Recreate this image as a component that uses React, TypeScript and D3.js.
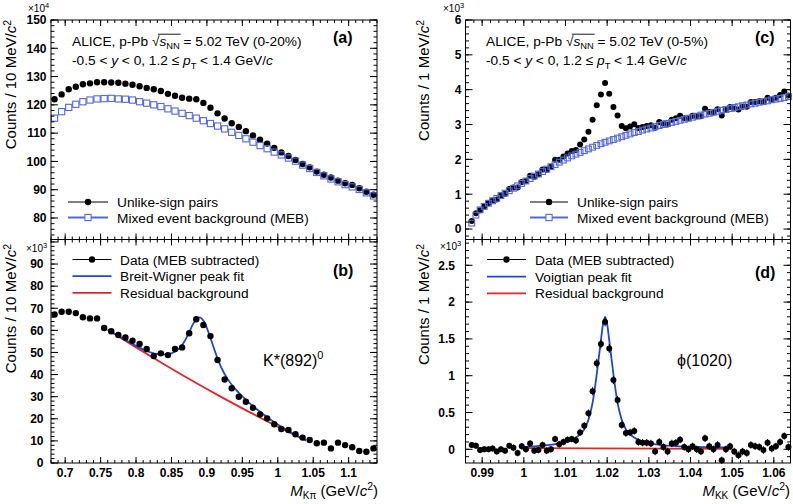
import React from 'react';
import * as d3 from 'd3';

const FONT = '"Liberation Sans", Arial, Helvetica, sans-serif';

// ---------------- K*(892) panels (a), (b) ----------------
const kMass = [0.685, 0.695, 0.705, 0.715, 0.725, 0.735, 0.745, 0.755, 0.765, 0.775, 0.785, 0.795, 0.805, 0.815, 0.825, 0.835, 0.845, 0.855, 0.865, 0.875, 0.885, 0.895, 0.905, 0.915, 0.925, 0.935, 0.945, 0.955, 0.965, 0.975, 0.985, 0.995, 1.005, 1.015, 1.025, 1.035, 1.045, 1.055, 1.065, 1.075, 1.085, 1.095, 1.105, 1.115, 1.125, 1.135];
// x10^4
const kUnlike = [122.0, 123.7, 125.5, 126.4, 127.3, 127.6, 128.0, 128.0, 127.9, 127.8, 127.5, 127.1, 126.6, 126.0, 125.5, 124.9, 123.9, 123.2, 122.5, 122.2, 122.0, 120.7, 119.0, 117.0, 115.2, 113.5, 112.2, 110.7, 109.2, 107.7, 106.3, 104.8, 103.2, 101.9, 100.5, 99.1, 97.9, 96.4, 95.3, 94.3, 93.2, 92.3, 91.7, 90.5, 89.3, 88.2];
const kMEB = [115.3, 117.6, 119.1, 120.2, 121.1, 121.7, 122.1, 122.2, 122.3, 122.1, 122.0, 121.7, 121.1, 120.6, 120.0, 119.4, 118.6, 117.8, 117.0, 116.2, 115.3, 114.4, 113.4, 112.5, 111.5, 110.3, 109.2, 108.0, 106.8, 105.6, 104.5, 103.3, 102.3, 101.2, 100.1, 98.7, 97.5, 96.1, 94.9, 93.8, 92.8, 91.8, 91.0, 90.1, 88.9, 87.8];
// x10^3
const kSub = [67.2, 68.4, 68.4, 67.8, 65.9, 65.4, 65.4, 61.1, 59.6, 57.9, 56.8, 55.3, 53.8, 51.6, 48.4, 49.6, 48.8, 51.6, 52.3, 58.7, 65.0, 62.4, 57.4, 46.6, 37.8, 33.8, 30.0, 27.7, 25.0, 22.0, 20.2, 17.5, 15.4, 14.9, 13.0, 11.5, 10.4, 8.9, 9.2, 6.6, 9.2, 8.1, 7.1, 5.4, 5.1, 6.6];
const kFitMass = [0.76, 0.77, 0.78, 0.79, 0.80, 0.81, 0.82, 0.83, 0.84, 0.85, 0.86, 0.865, 0.87, 0.875, 0.88, 0.885, 0.89, 0.895, 0.90, 0.905, 0.91, 0.915, 0.92, 0.93, 0.94, 0.95, 0.96, 0.97, 0.98, 0.99, 1.00, 1.01, 1.02, 1.03, 1.04];
const kFitVal = [60.3, 58.4, 56.6, 54.8, 53.0, 51.4, 50.1, 49.3, 49.1, 49.6, 51.5, 53.3, 55.9, 59.2, 62.6, 65.1, 65.9, 64.5, 61.0, 56.6, 51.8, 47.3, 43.4, 37.6, 33.5, 30.1, 27.1, 24.4, 21.9, 19.6, 17.4, 15.4, 13.6, 11.9, 10.3];
const kResMass = [0.76, 0.80, 0.84, 0.88, 0.92, 0.96, 1.00, 1.04];
const kResVal = [60.2, 52.3, 44.6, 37.1, 29.9, 23.0, 16.4, 10.1];

// ---------------- phi(1020) panels (c), (d) ----------------
const phiMass = [0.9875, 0.9885, 0.9895, 0.9905, 0.9915, 0.9925, 0.9935, 0.9945, 0.9955, 0.9965, 0.9975, 0.9985, 0.9995, 1.0005, 1.0015, 1.0025, 1.0035, 1.0045, 1.0055, 1.0065, 1.0075, 1.0085, 1.0095, 1.0105, 1.0115, 1.0125, 1.0135, 1.0145, 1.0155, 1.0165, 1.0175, 1.0185, 1.0195, 1.0205, 1.0215, 1.0225, 1.0235, 1.0245, 1.0255, 1.0265, 1.0275, 1.0285, 1.0295, 1.0305, 1.0315, 1.0325, 1.0335, 1.0345, 1.0355, 1.0365, 1.0375, 1.0385, 1.0395, 1.0405, 1.0415, 1.0425, 1.0435, 1.0445, 1.0455, 1.0465, 1.0475, 1.0485, 1.0495, 1.0505, 1.0515, 1.0525, 1.0535, 1.0545, 1.0555, 1.0565, 1.0575, 1.0585, 1.0595, 1.0605, 1.0615, 1.0625, 1.0635];
// x10^3
const phiUnlike = [0.23, 0.45, 0.54, 0.65, 0.74, 0.82, 0.85, 0.96, 1.01, 1.15, 1.19, 1.19, 1.35, 1.38, 1.53, 1.50, 1.57, 1.71, 1.70, 1.79, 1.99, 1.99, 2.08, 2.17, 2.24, 2.27, 2.43, 2.57, 2.79, 3.14, 3.55, 3.86, 4.19, 3.88, 3.50, 3.26, 2.96, 2.89, 2.94, 3.01, 2.90, 2.93, 2.96, 2.98, 2.91, 3.07, 3.03, 3.00, 3.14, 3.18, 3.25, 3.18, 3.18, 3.25, 3.24, 3.24, 3.45, 3.36, 3.35, 3.44, 3.26, 3.43, 3.50, 3.46, 3.43, 3.51, 3.51, 3.65, 3.65, 3.67, 3.65, 3.77, 3.72, 3.77, 3.85, 3.95, 3.83];
const phiMEB = [0.17, 0.40, 0.55, 0.65, 0.74, 0.81, 0.88, 0.96, 1.03, 1.10, 1.17, 1.24, 1.31, 1.38, 1.45, 1.52, 1.58, 1.65, 1.72, 1.79, 1.85, 1.92, 1.98, 2.04, 2.10, 2.15, 2.20, 2.25, 2.30, 2.35, 2.40, 2.45, 2.49, 2.53, 2.57, 2.61, 2.65, 2.69, 2.73, 2.77, 2.80, 2.84, 2.87, 2.90, 2.94, 2.97, 3.00, 3.03, 3.06, 3.09, 3.12, 3.15, 3.18, 3.21, 3.24, 3.27, 3.30, 3.32, 3.35, 3.38, 3.41, 3.43, 3.46, 3.49, 3.51, 3.54, 3.56, 3.59, 3.61, 3.64, 3.66, 3.68, 3.71, 3.73, 3.75, 3.77, 3.80];
const phiSub = [0.06, 0.05, -0.01, 0.00, 0.00, 0.01, -0.03, 0.00, -0.02, 0.05, 0.02, -0.05, 0.04, 0.00, 0.08, -0.02, -0.01, 0.06, -0.02, 0.00, 0.14, 0.07, 0.10, 0.13, 0.14, 0.12, 0.23, 0.32, 0.49, 0.79, 1.17, 1.43, 1.73, 1.37, 0.94, 0.67, 0.33, 0.22, 0.23, 0.25, 0.10, 0.09, 0.09, 0.08, -0.03, 0.10, 0.03, -0.03, 0.08, 0.09, 0.13, 0.03, 0.00, 0.04, 0.00, -0.03, 0.15, 0.04, 0.00, 0.06, -0.15, 0.00, 0.04, -0.03, -0.08, -0.03, -0.05, 0.06, 0.04, 0.03, -0.01, 0.09, 0.01, 0.04, 0.10, 0.18, 0.03];
const phiErr = [0.04, 0.04, 0.04, 0.04, 0.04, 0.04, 0.04, 0.04, 0.04, 0.04, 0.045, 0.045, 0.045, 0.045, 0.045, 0.045, 0.045, 0.045, 0.045, 0.045, 0.045, 0.045, 0.045, 0.045, 0.045, 0.05, 0.05, 0.05, 0.05, 0.055, 0.06, 0.06, 0.06, 0.06, 0.055, 0.055, 0.05, 0.05, 0.05, 0.05, 0.05, 0.05, 0.05, 0.05, 0.05, 0.05, 0.05, 0.05, 0.05, 0.05, 0.05, 0.05, 0.05, 0.05, 0.05, 0.05, 0.05, 0.05, 0.05, 0.05, 0.05, 0.05, 0.05, 0.05, 0.05, 0.05, 0.05, 0.05, 0.05, 0.05, 0.05, 0.05, 0.05, 0.05, 0.05, 0.05, 0.05];
const phiFitMass = [1.000, 1.0045, 1.0095, 1.0125, 1.0145, 1.0155, 1.0165, 1.0175, 1.018, 1.0185, 1.019, 1.0195, 1.020, 1.0205, 1.021, 1.0215, 1.0225, 1.0235, 1.0245, 1.0265, 1.0295, 1.0345, 1.040, 1.045, 1.050];
const phiFitVal = [0.03, 0.05, 0.09, 0.16, 0.27, 0.40, 0.63, 1.02, 1.25, 1.48, 1.70, 1.80, 1.70, 1.48, 1.25, 1.02, 0.63, 0.40, 0.27, 0.16, 0.09, 0.05, 0.035, 0.028, 0.022];
const phiResMass = [1.000, 1.050];
const phiResVal = [0.015, 0.005];

// ---------------- ticks ----------------
const kXTicks = [0.7, 0.75, 0.8, 0.85, 0.9, 0.95, 1, 1.05, 1.1];
const phiXTicks = [0.99, 1, 1.01, 1.02, 1.03, 1.04, 1.05, 1.06];
const aYTicks = [80, 90, 100, 110, 120, 130, 140, 150];
const bYTicks = [0, 10, 20, 30, 40, 50, 60, 70, 80, 90];
const cYTicks = [0, 1, 2, 3, 4, 5, 6];
const dYTicks = [0, 0.5, 1, 1.5, 2, 2.5];

// ---------------- layout ----------------
const LX0 = 51, LX1 = 377, RX0 = 465.5, RX1 = 790.5;
const YT = 20, YM = 239.5, YB = 463;

const xK = d3.scaleLinear().domain([0.68, 1.14]).range([LX0, LX1]);
const xP = d3.scaleLinear().domain([0.986, 1.064]).range([RX0, RX1]);
const yA = d3.scaleLinear().domain([72.4, 150]).range([YM, YT]);
const yB = d3.scaleLinear().domain([0, 101.1]).range([YB, YM]);
const yC = d3.scaleLinear().domain([-0.3, 6]).range([YM, YT]);
const yD = d3.scaleLinear().domain([-0.186, 2.85]).range([YB, YM]);

const BLUE_M = '#5468dc';
const BLUE_FIT = '#2447c8';
const RED = '#e0262a';

let _ctx: CanvasRenderingContext2D | null = null;
function tw(s: string, size: number, italic = false, bold = false) {
  if (!_ctx) _ctx = document.createElement('canvas').getContext('2d');
  if (!_ctx) return s.length * size * 0.55;
  _ctx.font = `${italic ? 'italic ' : ''}${bold ? 'bold ' : ''}${size}px ${FONT}`;
  return _ctx.measureText(s).width;
}

function minorTicks(domain: number[], step: number) {
  const [a, b] = domain;
  const k0 = Math.ceil(a / step - 1e-9), k1 = Math.floor(b / step + 1e-9);
  return d3.range(k0, k1 + 1).map((k) => +(k * step).toFixed(6));
}

function Frame({ xs, ys, xMajor, xStep, yMajor, yStep }: any) {
  const [x0, x1] = xs.range();
  const [yb, yt] = ys.range();
  const XM = 6, Xm = 3, YMj = 7, Ymn = 3.5;
  const xMin = minorTicks(xs.domain(), xStep);
  const yMin = minorTicks(ys.domain(), yStep);
  const els: any[] = [];
  xMin.forEach((v, i) => {
    const x = xs(v);
    els.push(<line key={'xm' + i} x1={x} x2={x} y1={yb} y2={yb - Xm} />);
    els.push(<line key={'xt' + i} x1={x} x2={x} y1={yt} y2={yt + Xm} />);
  });
  xMajor.forEach((v: number, i: number) => {
    const x = xs(v);
    els.push(<line key={'xM' + i} x1={x} x2={x} y1={yb} y2={yb - XM} />);
    els.push(<line key={'xT' + i} x1={x} x2={x} y1={yt} y2={yt + XM} />);
  });
  yMin.forEach((v, i) => {
    const y = ys(v);
    if (y > yb + 0.1 || y < yt - 0.1) return;
    els.push(<line key={'ym' + i} x1={x0} x2={x0 + Ymn} y1={y} y2={y} />);
    els.push(<line key={'yr' + i} x1={x1} x2={x1 - Ymn} y1={y} y2={y} />);
  });
  yMajor.forEach((v: number, i: number) => {
    const y = ys(v);
    if (y > yb + 0.1 || y < yt - 0.1) return;
    els.push(<line key={'yM' + i} x1={x0} x2={x0 + YMj} y1={y} y2={y} />);
    els.push(<line key={'yR' + i} x1={x1} x2={x1 - YMj} y1={y} y2={y} />);
  });
  return (
    <g stroke="#000" strokeWidth={1} fill="none">
      <rect x={x0} y={yt} width={x1 - x0} height={yb - yt} />
      {els}
    </g>
  );
}

function fmt(v: number) {
  return String(+v.toFixed(3));
}

function YLabels({ ys, ticks, x }: any) {
  return (
    <g fontFamily={FONT} fontSize={12} fontWeight="bold" textAnchor="end">
      {ticks.map((v: number, i: number) => (
        <text key={i} x={x} y={ys(v) + 4.3}>{fmt(v)}</text>
      ))}
    </g>
  );
}

function XLabels({ xs, ticks, y }: any) {
  return (
    <g fontFamily={FONT} fontSize={12} fontWeight="bold" textAnchor="middle">
      {ticks.map((v: number, i: number) => (
        <text key={i} x={xs(v)} y={y}>{fmt(v)}</text>
      ))}
    </g>
  );
}

function Dots({ xs, ys, xv, yv, r = 3.2 }: any) {
  return (
    <g fill="#000">
      {xv.map((m: number, i: number) => (
        <circle key={i} cx={xs(m)} cy={ys(yv[i])} r={r} />
      ))}
    </g>
  );
}

function Squares({ xs, ys, xv, yv, s = 6.2 }: any) {
  return (
    <g fill="none" stroke={BLUE_M} strokeWidth={1.1}>
      {xv.map((m: number, i: number) => (
        <rect key={i} x={xs(m) - s / 2} y={ys(yv[i]) - s / 2} width={s} height={s} />
      ))}
    </g>
  );
}

function Curve({ xs, ys, xv, yv, color, w = 1.8 }: any) {
  const gen = d3
    .line<number>()
    .x((d, i) => xs(xv[i]))
    .y((d) => ys(d))
    .curve(d3.curveMonotoneX);
  return <path d={gen(yv) || ''} fill="none" stroke={color} strokeWidth={w} />;
}

function LegendRow({ x1, x2, y, kind, color, text, tx }: any) {
  const cx = (x1 + x2) / 2;
  return (
    <g>
      <line x1={x1} x2={x2} y1={y} y2={y} stroke={color} strokeWidth={kind === 'dot' ? 1.2 : 1.8} />
      {kind === 'dot' && <circle cx={cx} cy={y} r={3.2} fill="#000" />}
      {kind === 'sq' && <rect x={cx - 3.1} y={y - 3.1} width={6.2} height={6.2} fill="#fff" stroke={color} strokeWidth={1.1} />}
      <text x={tx} y={y + 5} fontFamily={FONT} fontSize={13.7}>{text}</text>
    </g>
  );
}

function Header({ x, y, cent }: any) {
  const fs = 13.7;
  const p1 = 'ALICE, p-Pb ';
  const w1 = tw(p1, fs);
  const wr = tw('\u221A', fs);
  const ws = tw('s', fs, true);
  const wn = tw('NN', fs * 0.68);
  const oy = y - fs * 0.86;
  return (
    <g fontFamily={FONT} fontSize={fs}>
      <text x={x} y={y}>
        {p1}
        <tspan>{'\u221A'}</tspan>
        <tspan fontStyle="italic">s</tspan>
        <tspan fontSize={fs * 0.68} dy={3}>NN</tspan>
        <tspan dy={-3}>{` = 5.02 TeV (${cent})`}</tspan>
      </text>
      <line x1={x + w1 + wr * 0.8} x2={x + w1 + wr + ws + wn + 1} y1={oy} y2={oy} stroke="#000" strokeWidth={0.9} />
      <text x={x} y={y + 19}>
        {'-0.5 < '}
        <tspan fontStyle="italic">y</tspan>
        {' < 0, 1.2 \u2264 '}
        <tspan fontStyle="italic">p</tspan>
        <tspan fontSize={fs * 0.68} dy={4}>T</tspan>
        <tspan dy={-4}>{' < 1.4 GeV/'}</tspan>
        <tspan fontStyle="italic">c</tspan>
      </text>
    </g>
  );
}

function YTitle({ x, y, unit }: any) {
  return (
    <text transform={`translate(${x},${y}) rotate(-90)`} textAnchor="end" fontFamily={FONT} fontSize={15}>
      {`Counts / ${unit} MeV/`}
      <tspan fontStyle="italic">c</tspan>
      <tspan fontSize={10.5} dy={-5}>2</tspan>
    </text>
  );
}

function Exponent({ x, y, p }: any) {
  return (
    <text x={x} y={y} fontFamily={FONT} fontSize={10}>
      {'\u00D710'}
      <tspan fontSize={7.5} dy={-4}>{p}</tspan>
    </text>
  );
}

function XTitle({ x, y, sub }: any) {
  return (
    <text x={x} y={y} textAnchor="end" fontFamily={FONT} fontSize={15}>
      <tspan fontStyle="italic">M</tspan>
      <tspan fontSize={10} dy={3}>{sub}</tspan>
      <tspan dy={-3}>{' (GeV/'}</tspan>
      <tspan fontStyle="italic">c</tspan>
      <tspan fontSize={10.5} dy={-6}>2</tspan>
      <tspan dy={6}>)</tspan>
    </text>
  );
}

export default function App() {
  return (
    <svg width={793} height={504} style={{ position: 'absolute', left: 0, top: 0, background: '#fff' }}>
      <rect x={0} y={0} width={793} height={504} fill="#fff" />

      {/* ===== (a) ===== */}
      <Dots xs={xK} ys={yA} xv={kMass} yv={kUnlike} />
      <Squares xs={xK} ys={yA} xv={kMass} yv={kMEB} />
      <Frame xs={xK} ys={yA} xMajor={kXTicks} xStep={0.01} yMajor={aYTicks} yStep={2} />
      <YLabels ys={yA} ticks={aYTicks} x={46.5} />
      <Header x={72} y={46} cent="0-20%" />
      <text x={333} y={43} fontFamily={FONT} fontSize={16} fontWeight="bold">(a)</text>
      <LegendRow x1={68} x2={108} y={202} kind="dot" color="#000" text="Unlike-sign pairs" tx={117} />
      <LegendRow x1={68} x2={108} y={217.5} kind="sq" color={BLUE_M} text="Mixed event background (MEB)" tx={117} />
      <YTitle x={15.5} y={20} unit="10" />
      <Exponent x={28} y={12} p="4" />

      {/* ===== (b) ===== */}
      <Curve xs={xK} ys={yB} xv={kResMass} yv={kResVal} color={RED} />
      <Curve xs={xK} ys={yB} xv={kFitMass} yv={kFitVal} color={BLUE_FIT} />
      <Dots xs={xK} ys={yB} xv={kMass} yv={kSub} />
      <Frame xs={xK} ys={yB} xMajor={kXTicks} xStep={0.01} yMajor={[...bYTicks, 100]} yStep={2} />
      <YLabels ys={yB} ticks={bYTicks} x={43.5} />
      <XLabels xs={xK} ticks={kXTicks} y={477} />
      <text x={333} y={276} fontFamily={FONT} fontSize={16} fontWeight="bold">(b)</text>
      <LegendRow x1={72.5} x2={111.5} y={259.5} kind="dot" color="#000" text="Data (MEB subtracted)" tx={120} />
      <LegendRow x1={72.5} x2={111.5} y={276.2} kind="line" color={BLUE_FIT} text="Breit-Wigner peak fit" tx={120} />
      <LegendRow x1={72.5} x2={111.5} y={292.8} kind="line" color={RED} text="Residual background" tx={120} />
      <text x={263} y={366} fontFamily={FONT} fontSize={16}>
        K*(892)<tspan fontSize={11} dy={-7}>0</tspan>
      </text>
      <YTitle x={15.5} y={244} unit="10" />
      <Exponent x={26} y={252} p="3" />
      <XTitle x={378} y={496} sub={'K\u03C0'} />

      {/* ===== (c) ===== */}
      <Dots xs={xP} ys={yC} xv={phiMass} yv={phiUnlike} r={3} />
      <Squares xs={xP} ys={yC} xv={phiMass} yv={phiMEB} s={5.8} />
      <Frame xs={xP} ys={yC} xMajor={phiXTicks} xStep={0.002} yMajor={cYTicks} yStep={0.2} />
      <YLabels ys={yC} ticks={cYTicks} x={461.5} />
      <Header x={486} y={46} cent="0-5%" />
      <text x={755} y={43} fontFamily={FONT} fontSize={16} fontWeight="bold">(c)</text>
      <LegendRow x1={530} x2={568} y={202} kind="dot" color="#000" text="Unlike-sign pairs" tx={577} />
      <LegendRow x1={530} x2={568} y={217.5} kind="sq" color={BLUE_M} text="Mixed event background (MEB)" tx={577} />
      <YTitle x={429} y={20} unit="1" />
      <Exponent x={443} y={12} p="3" />

      {/* ===== (d) ===== */}
      <Curve xs={xP} ys={yD} xv={phiResMass} yv={phiResVal} color={RED} />
      <Curve xs={xP} ys={yD} xv={phiFitMass} yv={phiFitVal} color={BLUE_FIT} />
      <g stroke="#000" strokeWidth={1}>
        {phiMass.map((m, i) => (
          <line key={i} x1={xP(m)} x2={xP(m)} y1={yD(phiSub[i] - phiErr[i])} y2={yD(phiSub[i] + phiErr[i])} />
        ))}
      </g>
      <Dots xs={xP} ys={yD} xv={phiMass} yv={phiSub} r={3} />
      <Frame xs={xP} ys={yD} xMajor={phiXTicks} xStep={0.002} yMajor={dYTicks} yStep={0.1} />
      <YLabels ys={yD} ticks={dYTicks} x={455} />
      <XLabels xs={xP} ticks={phiXTicks} y={477} />
      <text x={755} y={278} fontFamily={FONT} fontSize={16} fontWeight="bold">(d)</text>
      <LegendRow x1={487} x2={526} y={259.5} kind="dot" color="#000" text="Data (MEB subtracted)" tx={535} />
      <LegendRow x1={487} x2={526} y={276.7} kind="line" color={BLUE_FIT} text="Voigtian peak fit" tx={535} />
      <LegendRow x1={487} x2={526} y={293.3} kind="line" color={RED} text="Residual background" tx={535} />
      <text x={677} y={366} fontFamily={FONT} fontSize={16}>{'\u03D5(1020)'}</text>
      <YTitle x={429} y={244} unit="1" />
      <Exponent x={440} y={250} p="3" />
      <XTitle x={790} y={496} sub="KK" />
    </svg>
  );
}
